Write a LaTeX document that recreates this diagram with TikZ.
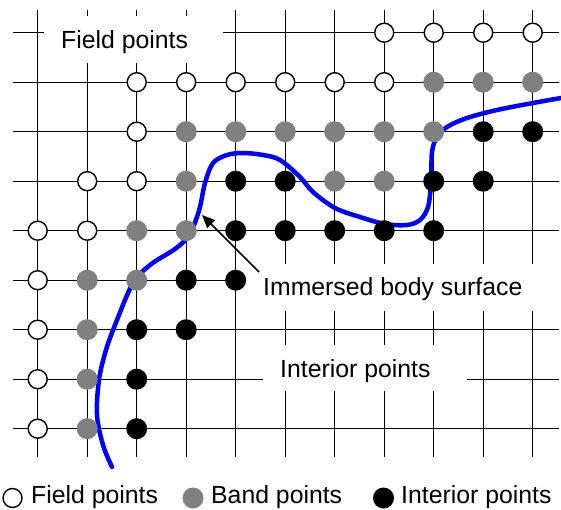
\documentclass[tikz,border=0pt]{standalone}
\usepackage{fontspec}
\setmainfont{Liberation Sans}
\usetikzlibrary{arrows.meta}
\definecolor{bandgray}{RGB}{128,128,128}
\definecolor{curveblue}{RGB}{0,0,255}
\tikzset{
  gridline/.style={line width=1.2pt, black},
  whitebox/.style={fill=white, draw=none},
  fpt/.style={circle, draw=black, fill=white, line width=1.4pt, minimum size=19pt, inner sep=0pt},
  bpt/.style={circle, fill=bandgray, draw=none, minimum size=21pt, inner sep=0pt},
  ipt/.style={circle, fill=black, draw=none, minimum size=21pt, inner sep=0pt},
  lbl/.style={anchor=base west, inner sep=0pt, font=\fontsize{24.8}{28}\selectfont},
  surf/.style={curveblue, line width=4.5pt, line cap=round},
  pointer/.style={line width=1.5pt, -{Triangle[length=13pt,width=11pt]}}
}
\begin{document}
\begin{tikzpicture}[x=1pt,y=-1pt]
\useasboundingbox (0,0) rectangle (561,510);
% grid
\foreach \i in {0,...,10} {
  \draw[gridline] ({37.7+49.5*\i},10) -- ({37.7+49.5*\i},457);
}
\foreach \j in {0,...,8} {
  \draw[gridline] (13,{32.7+49.5*\j}) -- (559,{32.7+49.5*\j});
}
% label backgrounds
\fill[whitebox] (44,16) rectangle (223,63);
\fill[whitebox] (243,264) rectangle (561,311);
\fill[whitebox] (263,345) rectangle (467,391);
% body surface
\draw[surf] plot[smooth, tension=0.55] coordinates {
  (112,467) (103,445) (97,415) (99,380) (106,350) (117,320) (133,283)
  (150,265) (175,249) (187,238) (194,225) (200,207) (205,183) (213,163)
  (227,155) (243,153) (263,155) (280,160) (300,177) (313,192) (335,208)
  (360,217) (385,224) (407,225) (420,220) (428,207) (431,183) (432,152)
  (437,137) (447,127) (467,118) (497,110) (533,103) (561,98)};
% field points
\foreach \i/\j in {7/0,8/0,9/0,10/0,2/1,3/1,4/1,5/1,6/1,7/1,2/2,1/3,2/3,0/4,1/4,0/5,0/6,0/7,0/8} {
  \node[fpt] (f\i-\j) at ({37.7+49.5*\i},{32.7+49.5*\j}) {};
}
% band points
\foreach \i/\j in {8/1,9/1,10/1,3/2,4/2,5/2,6/2,7/2,8/2,3/3,6/3,7/3,2/4,3/4,1/5,2/5,1/6,1/7,1/8} {
  \node[bpt] (b\i-\j) at ({37.7+49.5*\i},{32.7+49.5*\j}) {};
}
% interior points
\foreach \i/\j in {9/2,10/2,4/3,5/3,8/3,9/3,4/4,5/4,6/4,7/4,8/4,3/5,4/5,2/6,3/6,2/7,2/8} {
  \node[ipt] (i\i-\j) at ({37.7+49.5*\i},{32.7+49.5*\j}) {};
}
% labels
\node[lbl] (tfield) at (61,49) {Field points};
\node[lbl] (tbody) at (263,295) {Immersed body surface};
\node[lbl] (tinter) at (280,377) {Interior points};
\coordinate (atail) at (259,272);
\coordinate (atip) at (202,215);
\draw[pointer] (atail) -- (atip);
% legend
\node[fpt] (lf) at (12.5,498) {};
\node[lbl] (lft) at (31,503) {Field points};
\node[bpt] (lb) at (193,498) {};
\node[lbl] (lbt) at (211,503) {Band points};
\node[ipt] (li) at (383.5,498) {};
\node[lbl] (lit) at (401,503) {Interior points};
\end{tikzpicture}
\end{document}
